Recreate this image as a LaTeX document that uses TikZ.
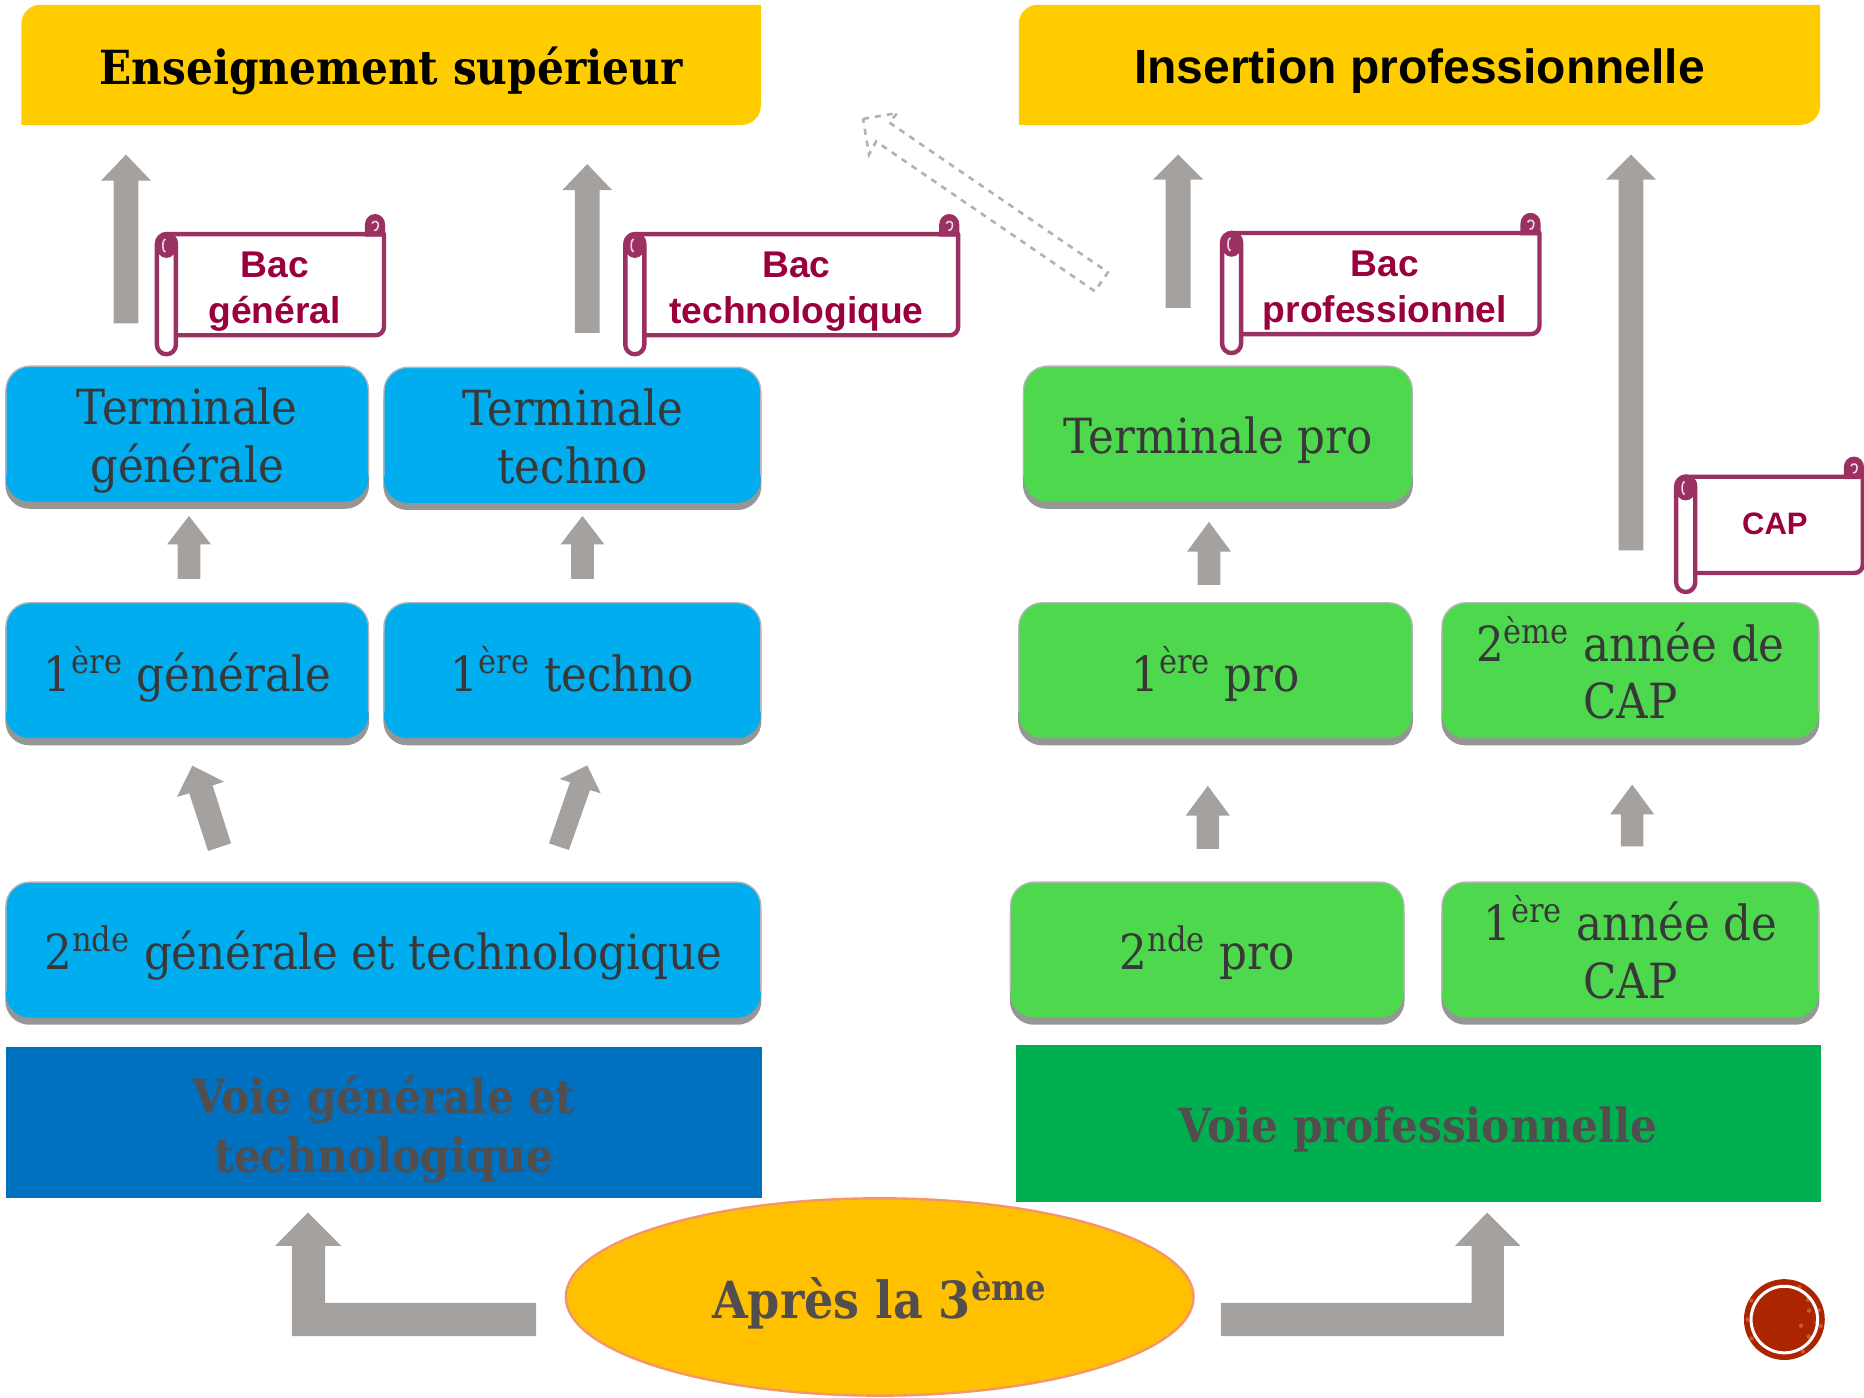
\documentclass[tikz,border=0pt]{standalone}
\usepackage{fontspec}
\setmainfont{Liberation Sans}
\newfontfamily\slab{DejaVu Serif Condensed}
\usetikzlibrary{shapes.geometric}
\definecolor{arrowgray}{HTML}{A5A19F}
\definecolor{edublue}{HTML}{00AEEF}
\definecolor{edugreen}{HTML}{4DD84D}
\definecolor{shadowgray}{HTML}{969696}
\definecolor{topgold}{HTML}{FFCC00}
\definecolor{scrollline}{HTML}{9B3163}
\definecolor{scrolltext}{HTML}{99003D}
\definecolor{boxtext}{HTML}{383838}
\definecolor{voietext}{HTML}{524E4E}
\newcommand\stagestrut{\rule[-0.25em]{0pt}{0.95em}}
\tikzset{
  stagetext/.style={align=center,font=\slab\fontsize{24.2}{28.8}\selectfont,text=boxtext,inner sep=0pt},
  voietxt/.style={align=center,font=\slab\bfseries\fontsize{23.5}{29.1}\selectfont,text=voietext,inner sep=0pt},
  scrolltxt/.style={align=center,font=\bfseries\fontsize{18.6}{23}\selectfont,text=scrolltext,inner sep=0pt},
  grayarrow/.style={fill=arrowgray,draw=none},
  scrollpath/.style={draw=scrollline,line width=2.2pt,line join=round},
}
% [#1 text offset], #2 name, #3 x0, #4 y0, #5 x1, #6 y1, #7 colour, #8 text
\newcommand\stage[8][3]{%
  \fill[shadowgray,rounded corners=12pt] (#3-0.5,#4+8) rectangle (#5+0.5,#6+6);
  \fill[#7,rounded corners=12pt] (#3,#4) rectangle (#5,#6);
  \draw[shadowgray!70,line width=0.7pt,rounded corners=12pt] (#3,#6-22) -- (#3,#4) -- (#5,#4) -- (#5,#6-22);
  \node[stagetext] (#2) at ({(#3+#5)/2},{(#4+#6)/2+0.5+#1}) {#8};
}
% #1 x0, #2 ytop, #3 x1, #4 ybot
\newcommand\scrollshape[4]{%
  \fill[white] (#1+8,#2) rectangle (#3,#4);
  \draw[scrollpath] (#1+8,#2) -- (#3,#2) -- (#3,#4-7) arc[start angle=0,end angle=90,radius=7] -- (#1+16,#4);
  \draw[scrollpath,fill=white] (#1,#2+8) arc[start angle=180,end angle=270,radius=8]
     arc[start angle=270,end angle=360,radius=8] -- (#1+16,#4+8)
     arc[start angle=0,end angle=180,radius=8] -- cycle;
  \fill[scrollline] (#1+8,#2+9) ellipse[x radius=9,y radius=11];
  \draw[white!80!scrollline,line width=0.8pt] (#1+7,#2+15) arc[start angle=90,end angle=270,x radius=2,y radius=5.5];
  \fill[scrollline] (#3-16,#2-8) arc[start angle=180,end angle=360,x radius=8.5,y radius=9] -- (#3+1,#2+2) -- (#3-16,#2+2) -- cycle;
  \draw[white!80!scrollline,line width=0.8pt] (#3-10,#2-9) arc[start angle=200,end angle=360,x radius=2.7,y radius=2.7] arc[start angle=0,end angle=100,x radius=3,y radius=5];
}
% up arrow: #1 cx, #2 tip, #3 head base, #4 bottom, #5 head half, #6 shaft half
\newcommand\uparrowshape[6]{%
  \fill[grayarrow] (#1,#2) -- (#1+#5,#3) -- (#1+#6,#3) -- (#1+#6,#4) -- (#1-#6,#4) -- (#1-#6,#3) -- (#1-#5,#3) -- cycle;
}
\begin{document}
\begin{tikzpicture}[x=0.5944pt,y=-0.5944pt]
\useasboundingbox (0,0) rectangle (1568,1175.2);

% top banners
\fill[topgold] (18,105)
   -- (18,20) arc[start angle=180,end angle=270,radius=16] -- (640,4) -- (640,89)
   arc[start angle=0,end angle=90,radius=16] -- cycle;
\node[font=\slab\bfseries\fontsize{23.5}{30}\selectfont,text=black,inner sep=0pt] (enseign) at (329,60) {Enseignement supérieur};
\fill[topgold] (857,105)
   -- (857,20) arc[start angle=180,end angle=270,radius=16] -- (1531,4) -- (1531,89)
   arc[start angle=0,end angle=90,radius=16] -- cycle;
\node[font=\bfseries\fontsize{24}{30}\selectfont,text=black,inner sep=0pt] (insertion) at (1194,60) {Insertion professionnelle};

% dashed hollow arrow
\draw[draw=black!30,dashed,line width=1.3pt,fill=white]
  (726,100) -- (755,95) -- (748,103) -- (932,229) -- (921,245) -- (737,119) -- (731,130) -- cycle;

% long arrows
\uparrowshape{106}{130}{152}{272}{21}{10.5}
\uparrowshape{494}{138}{160}{280}{21}{10.5}
\uparrowshape{991}{130}{151}{259}{21}{10.5}
\uparrowshape{1372}{130}{151}{463}{21}{10.5}
% short arrows
\uparrowshape{159}{434}{458}{487}{18.5}{9.5}
\uparrowshape{490}{434}{458}{487}{18.5}{9.5}
\uparrowshape{1017}{439}{464}{492}{18.5}{9.5}
\uparrowshape{1016}{661}{686}{714}{18.5}{9.5}
\uparrowshape{1373}{660}{685}{712}{18.5}{9.5}
% tilted arrows
\fill[grayarrow] (161.8,644.1) -- (188.4,657.5) -- (178.9,660.8) -- (194.3,709.4) -- (175,715.9) -- (159.2,667.3) -- (148.9,670.4) -- cycle;
\fill[grayarrow] (494,643.8) -- (505.3,667.3) -- (496.3,664.6) -- (478.6,715) -- (461.8,709.4) -- (479.5,658) -- (470.8,655.3) -- cycle;

% L arrows
\fill[grayarrow] (259,1020) -- (287,1048) -- (273.4,1048) -- (273.4,1096) -- (451,1096) -- (451,1124) -- (245.5,1124) -- (245.5,1048) -- (231.5,1048) -- cycle;
\fill[grayarrow] (1251,1020) -- (1279,1048) -- (1265,1048) -- (1265,1124) -- (1027,1124) -- (1027,1096) -- (1238,1096) -- (1238,1048) -- (1224,1048) -- cycle;

% scrolls
\scrollshape{132}{197}{323}{282}
\node[scrolltxt] (bacg) at (231,245) {Bac\\général};
\scrollshape{526}{197}{806}{282}
\node[scrolltxt] (bact) at (670,245) {Bac\\technologique};
\scrollshape{1028}{196}{1295}{281}
\node[scrolltxt] (bacp) at (1165,244) {Bac\\professionnel};
\scrollshape{1410}{401}{1567}{482}
\node[scrolltxt,font=\bfseries\fontsize{15.5}{20}\selectfont] (cap) at (1493,441) {CAP};

% stage boxes
\stage[5.5]{tg}{5}{308}{310}{422}{edublue}{\stagestrut Terminale\\\stagestrut générale}
\stage[5.5]{tt}{323}{309}{640}{423}{edublue}{\stagestrut Terminale\\\stagestrut techno}
\stage{pg}{5}{507}{310}{621}{edublue}{\stagestrut 1\textsuperscript{ère} générale}
\stage{pt}{323}{507}{640}{621}{edublue}{\stagestrut 1\textsuperscript{ère} techno}
\stage{sg}{5}{742}{640}{856}{edublue}{\stagestrut 2\textsuperscript{nde} générale et technologique}
\stage[5.5]{tp}{861}{308}{1188}{422}{edugreen}{\stagestrut Terminale pro}
\stage{pp}{857}{507}{1188}{621}{edugreen}{\stagestrut 1\textsuperscript{ère} pro}
\stage[2]{dc}{1213}{507}{1530}{621}{edugreen}{\stagestrut 2\textsuperscript{ème} année de\\\stagestrut CAP}
\stage{sp}{850}{742}{1181}{856}{edugreen}{\stagestrut 2\textsuperscript{nde} pro}
\stage[2]{pc}{1213}{742}{1530}{856}{edugreen}{\stagestrut 1\textsuperscript{ère} année de\\\stagestrut CAP}

% voie rectangles
\fill[fill={rgb,255:red,0;green,112;blue,192}] (5,881) rectangle (641,1008);
\node[voietxt] (vg) at (323,950) {Voie générale et\\technologique};
\fill[fill={rgb,255:red,0;green,176;blue,80}] (855,879) rectangle (1532,1011);
\node[voietxt] (vp) at (1193,950) {Voie professionnelle};

% ellipse
\node[ellipse,draw={rgb,255:red,244;green,149;blue,106},fill={rgb,255:red,255;green,192;blue,0},line width=1.2pt,minimum width=528*0.5944pt,minimum height=166*0.5944pt,inner sep=0pt] (apres) at (740,1091) {};
\node[font=\slab\bfseries\fontsize{25.6}{30}\selectfont,text=voietext,inner sep=0pt] (apreslbl) at (740,1094) {Après la 3\textsuperscript{ème}};

% red seal
\fill[fill={rgb,255:red,171;green,38;blue,0}] (1501,1110) circle[radius=34];
\foreach \a/\r in {10/31,35/25,60/31,-20/22,-40/26,-65/30,150/32,180/31,210/32,20/15,-15/30,5/27}{
  \fill[fill={rgb,255:red,214;green,110;blue,80},opacity=0.7] (1501,1110) ++(\a:\r) circle[radius=1.8];
}
\draw[white,line width=1.5pt] (1501,1110) circle[radius=28];
\end{tikzpicture}
\end{document}
